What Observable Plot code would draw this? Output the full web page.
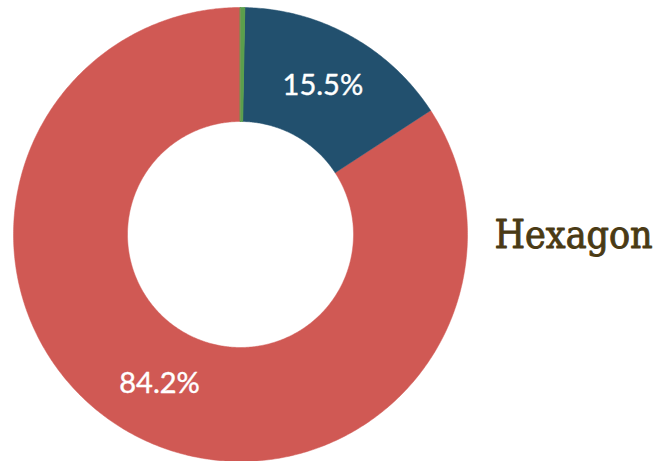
<!DOCTYPE html>
<html><head><meta charset="utf-8">
<script src="https://cdn.jsdelivr.net/npm/d3@7"></script>
<script src="https://cdn.jsdelivr.net/npm/@observablehq/plot@0.6"></script>
<style>body{margin:0;background:#fff;} svg{display:block;}</style>
</head><body><div id="chart"></div>
<script>
const categories = ["Other", "Blue", "Red"];
const shares = [0.3, 15.5, 84.2];
const colors = ["#5b9f4c", "#22506e", "#d05954"];
const labels = ["", "15.5%", "84.2%"];
const title = "Hexagon";

const inner = 113 / 227, outer = 1;
const total = d3.sum(shares);
let acc = 0;
const slices = categories.map((c, i) => {
  const a0 = acc / total * 2 * Math.PI;
  acc += shares[i];
  const a1 = acc / total * 2 * Math.PI;
  const pts = [];
  const n = Math.max(4, Math.ceil((a1 - a0) / 0.01));
  for (let k = 0; k <= n; k++) { const a = a0 + (a1 - a0) * k / n; pts.push({x: outer * Math.sin(a), y: outer * Math.cos(a)}); }
  for (let k = n; k >= 0; k--) { const a = a0 + (a1 - a0) * k / n; pts.push({x: inner * Math.sin(a), y: inner * Math.cos(a)}); }
  const am = (a0 + a1) / 2, rm = (inner + outer) / 2;
  return {cat: c, pts, color: colors[i], label: labels[i], lx: rm * Math.sin(am), ly: rm * Math.cos(am)};
});

const marks = slices.slice().reverse().map(s => Plot.line(s.pts, {x: "x", y: "y", curve: "linear-closed", fill: s.color, stroke: s.color, strokeWidth: s.cat === "Other" ? 1 : 0.5}));
marks.push(Plot.text(slices.filter(s => s.label), {x: "lx", y: "ly", text: "label", fill: "white", stroke: "white", strokeWidth: 0.4, fontSize: 29, fontFamily: "Lato"}));
marks.push(Plot.text([title], {frameAnchor: "right", textAnchor: "start", dx: 27, dy: 1, fill: "#4a3a14", stroke: "#4a3a14", strokeWidth: 0.9, fontSize: 39, fontFamily: "DejaVu Serif Condensed"}));

const chart = Plot.plot({
  width: 657, height: 461,
  marginLeft: 13, marginRight: 190, marginTop: 7, marginBottom: 0,
  x: {domain: [-1, 1], axis: null},
  y: {domain: [-1, 1], axis: null},
  style: {overflow: "visible"},
  marks
});
document.getElementById("chart").append(chart);
</script></body></html>
